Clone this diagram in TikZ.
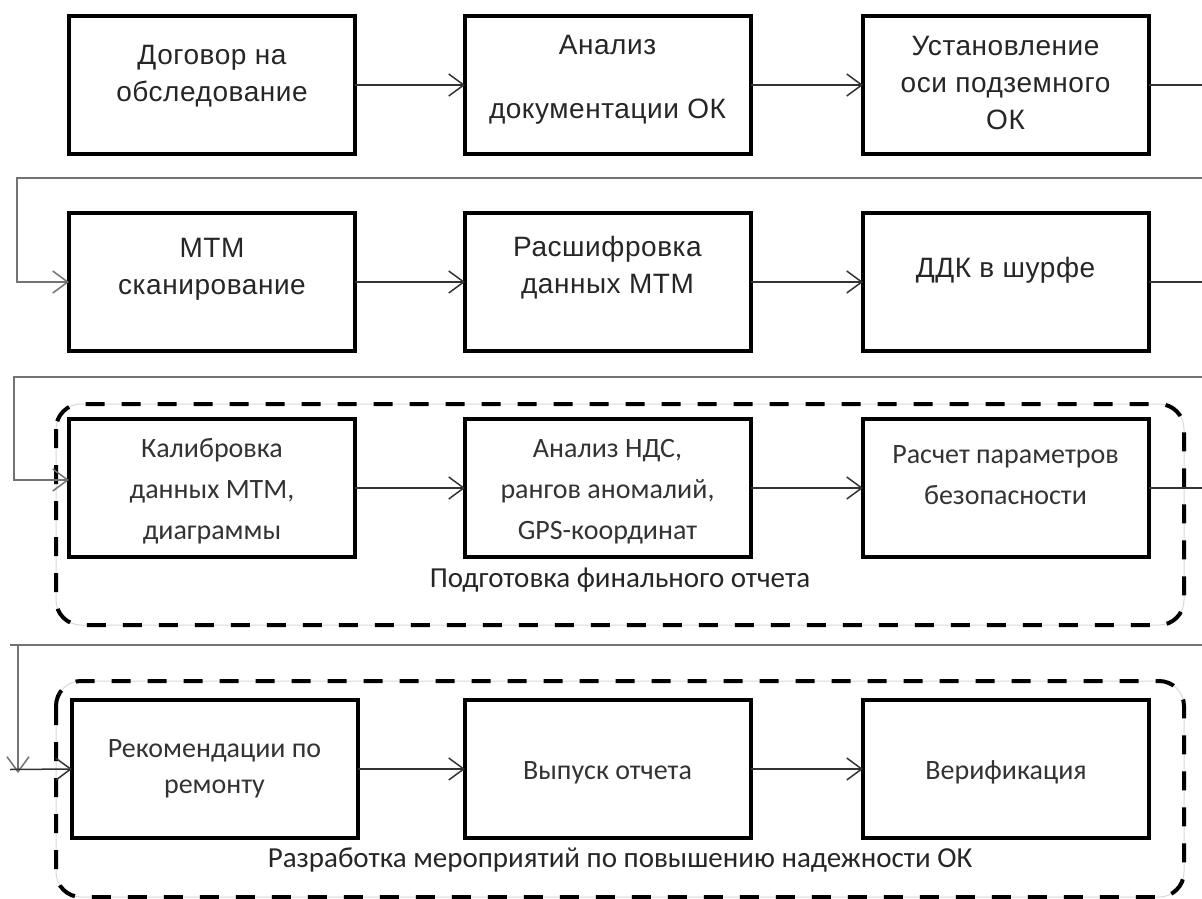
\documentclass[tikz,border=0pt]{standalone}
\usepackage{fontspec}
\setmainfont{Liberation Sans}
\newfontfamily\pixfont[LetterSpace=2]{Liberation Sans}
\newfontfamily\calfont{Carlito}
\usetikzlibrary{arrows.meta}
\begin{document}
\begin{tikzpicture}[x=1pt,y=-1pt,
  box/.style={draw=black, line width=4.6pt, minimum width=286pt, minimum height=138pt, inner sep=0pt, outer sep=0pt, anchor=north west},
  txtA/.style={anchor=north, align=center, inner sep=0pt, font=\pixfont\fontsize{28}{37}\selectfont, text=black!85},
  txtB/.style={anchor=north, align=center, inner sep=0pt, font=\calfont\fontsize{28}{41}\selectfont, text=black!80},
  txtC/.style={anchor=north, align=center, inner sep=0pt, font=\calfont\fontsize{28}{36}\selectfont, text=black!80},
  lab/.style={anchor=base, inner sep=0pt, font=\calfont\fontsize{29}{34}\selectfont, text=black!85},
  conn/.style={draw=black!80, line width=1.5pt},
  ret/.style={draw=black!55, line width=1.6pt},
  arr/.style={-{Straight Barb[length=15pt,width=22pt,line width=1.5pt]}},
  group/.style={draw=black, line width=4pt, dash pattern=on 19pt off 17pt, rounded corners=25pt},
  groupbg/.style={draw=black!15, line width=1pt, rounded corners=25pt},
]
\useasboundingbox[fill=white] (0,0) rectangle (1202,899);

% groups
\draw[groupbg] (56,404) rectangle (1184,625);
\draw[group] (56,404) rectangle (1184,625);
\draw[groupbg] (56,681) rectangle (1184,897);
\draw[group] (56,681) rectangle (1184,897);

% boxes
\node[box] (b1) at (69,16) {};
\node[box] (b2) at (465,16) {};
\node[box] (b3) at (863,16) {};
\node[box] (b4) at (69,213) {};
\node[box] (b5) at (465,213) {};
\node[box] (b6) at (863,213) {};
\node[box] (b7) at (69,419) {};
\node[box] (b8) at (465,419) {};
\node[box] (b9) at (863,419) {};
\node[box] (b10) at (72,700) {};
\node[box] (b11) at (465,700) {};
\node[box] (b12) at (863,700) {};

% texts
\node[txtA] (t1) at (212,38.1) {\strut Договор на\\обследование};
\node[txtA] (t2) at (607.5,28.1) {\strut Анализ\\[27pt]документации ОК};
\node[txtA] (t3) at (1005.5,29.1) {\strut Установление\\оси подземного\\ОК};
\node[txtA] (t4) at (212,231.1) {\strut МТМ\\сканирование};
\node[txtA] (t5) at (607.5,230.1) {\strut Расшифровка\\данных МТМ};
\node[txtA, anchor=base] (t6) at (1005.5,277) {ДДК в шурфе};
\node[txtB] (t7) at (212,428.3) {\strut Калибровка\\данных МТМ,\\диаграммы};
\node[txtB] (t8) at (607.5,428.3) {\strut Анализ НДС,\\рангов аномалий,\\GPS-координат};
\node[txtB] (t9) at (1005.5,434.3) {\strut Расчет параметров\\безопасности};
\node[txtC] (t10) at (214.5,731.8) {\strut Рекомендации по\\ремонту};
\node[txtC, anchor=base] (t11) at (607.5,779) {Выпуск отчета};
\node[txtC, anchor=base] (t12) at (1006,779) {Верификация};

\node[lab] (l1) at (620,587) {Подготовка финального отчета};
\node[lab] (l2) at (620,867) {Разработка мероприятий по повышению надежности ОК};

% coordinates for free ends
\coordinate (e1) at (1202,85);
\coordinate (s1) at (1202,178);
\coordinate (k1) at (17,178);
\coordinate (e2) at (1202,282);
\coordinate (s2) at (1202,377);
\coordinate (k2) at (14,377);
\coordinate (e3) at (1202,488);
\coordinate (s3) at (1202,645);
\coordinate (k3) at (10,645);
\coordinate (k4) at (18,645);
\coordinate (k5) at (18,773);
\coordinate (k6) at (10,769.5);

% connectors
\draw[conn,arr] (b1.east) -- (b2.west);
\draw[conn,arr] (b2.east) -- (b3.west);
\draw[conn] (b3.east) -- (e1);
\draw[ret,arr] (s1) -- (k1) |- (b4.west);
\draw[conn,arr] (b4.east) -- (b5.west);
\draw[conn,arr] (b5.east) -- (b6.west);
\draw[conn] (b6.east) -- (e2);
\draw[ret,arr] (s2) -- (k2) |- ([yshift=8pt]b7.west);
\draw[conn,arr] (b7.east) -- (b8.west);
\draw[conn,arr] (b8.east) -- (b9.west);
\draw[conn] (b9.east) -- (e3);
\draw[ret] (s3) -- (k3);
\draw[ret,arr] (k4) -- (k5);
\draw[conn,arr] (k6) -- (b10.west);
\draw[conn,arr] (b10.east) -- (b11.west);
\draw[conn,arr] (b11.east) -- (b12.west);
\end{tikzpicture}
\end{document}
